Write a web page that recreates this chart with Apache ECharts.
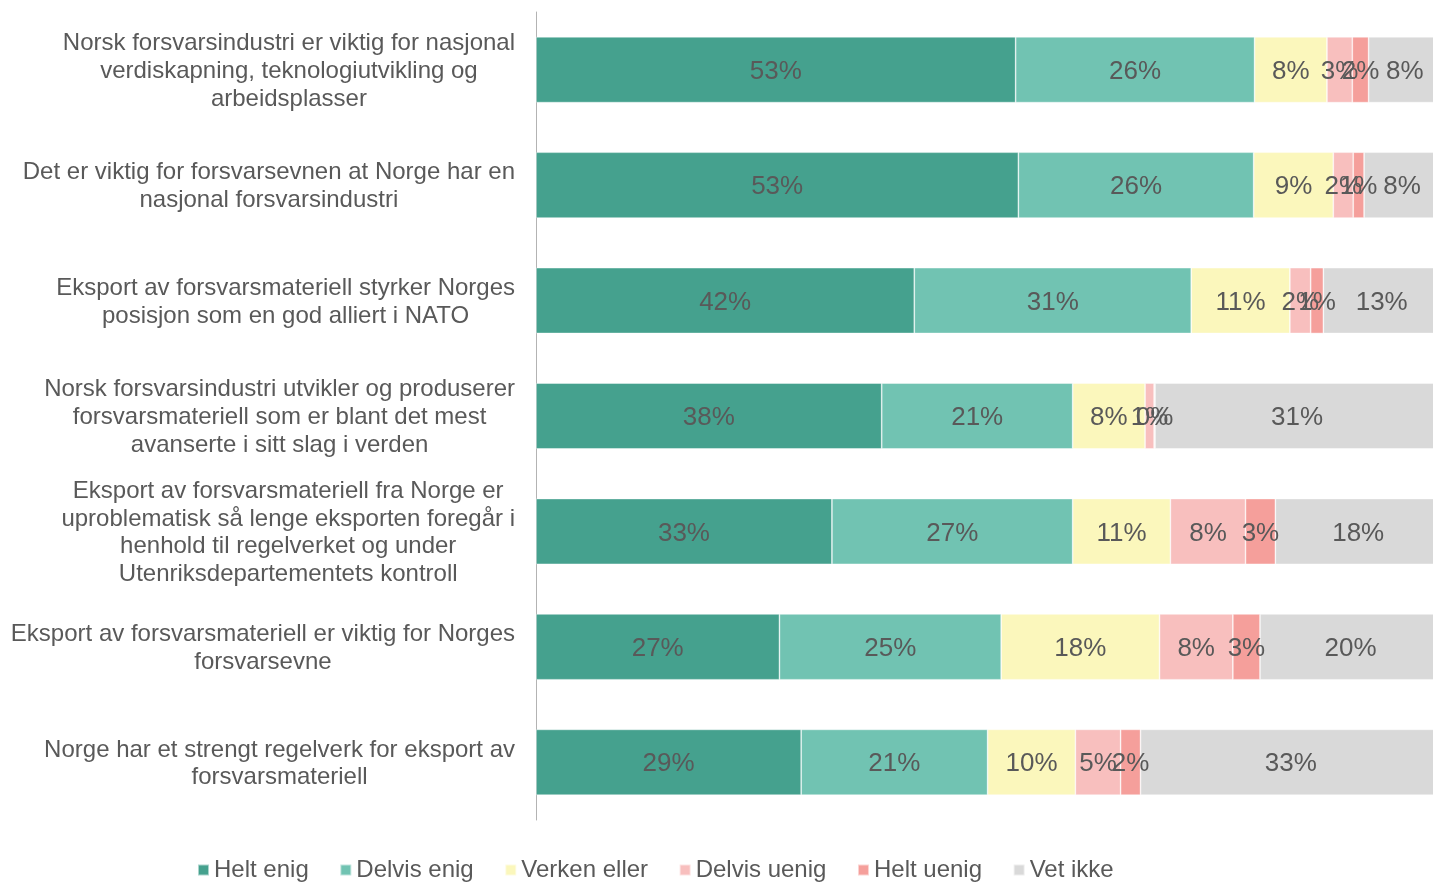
<!DOCTYPE html>
<html>
<head>
<meta charset="utf-8">
<script src="https://cdn.jsdelivr.net/npm/echarts@6/dist/echarts.min.js"></script>
<style>
  html, body { margin: 0; padding: 0; background: #ffffff; overflow: hidden; }
  #chart { width: 1441px; height: 882px; }
</style>
</head>
<body>
<div id="chart"></div>
<script>
// Statements (top to bottom), line breaks as they appear in the axis labels
const statements = [
  'Norsk forsvarsindustri er viktig for nasjonal\nverdiskapning, teknologiutvikling og\narbeidsplasser',
  'Det er viktig for forsvarsevnen at Norge har en\nnasjonal forsvarsindustri',
  'Eksport av forsvarsmateriell styrker Norges\nposisjon som en god alliert i NATO',
  'Norsk forsvarsindustri utvikler og produserer\nforsvarsmateriell som er blant det mest\navanserte i sitt slag i verden',
  'Eksport av forsvarsmateriell fra Norge er\nuproblematisk så lenge eksporten foregår i\nhenhold til regelverket og under\nUtenriksdepartementets kontroll',
  'Eksport av forsvarsmateriell er viktig for Norges\nforsvarsevne',
  'Norge har et strengt regelverk for eksport av\nforsvarsmateriell'
];

// Answer shares in percent, one value per statement
const heltEnig    = [53.0, 53.3, 41.8, 38.2, 32.7, 26.9, 29.3];
const delvisEnig  = [26.4, 26.0, 30.6, 21.1, 26.6, 24.5, 20.6];
const verkenEller = [8.0, 8.8, 10.9, 8.0, 10.8, 17.5, 9.7];
const delvisUenig = [2.8, 2.2, 2.3, 1.0, 8.3, 8.1, 5.0];
const heltUenig   = [1.8, 1.2, 1.4, 0.1, 3.3, 3.0, 2.2];
const vetIkke     = [8.0, 8.4, 12.9, 31.4, 18.3, 20.0, 33.2];

const seriesNames = ['Helt enig', 'Delvis enig', 'Verken eller', 'Delvis uenig', 'Helt uenig', 'Vet ikke'];
const seriesData = [heltEnig, delvisEnig, verkenEller, delvisUenig, heltUenig, vetIkke];
const seriesColors = ['#45A18E', '#71C3B2', '#FBF7BC', '#F8BFBE', '#F59F9B', '#D9D9D9'];

const FONT = '"Liberation Sans", Arial, sans-serif';
const TEXT = '#595959';

const chart = echarts.init(document.getElementById('chart'), null, { renderer: 'canvas' });

chart.setOption({
  animation: false,
  backgroundColor: '#ffffff',
  textStyle: { fontFamily: FONT, color: TEXT },
  grid: { left: 536, right: 0, top: 12, bottom: 62, containLabel: false },
  legend: {
    data: seriesNames,
    left: 192,
    top: 853,
    icon: 'rect',
    itemWidth: 11,
    itemHeight: 11,
    itemGap: 30.6,
    textStyle: { fontFamily: FONT, fontSize: 24, color: TEXT }
  },
  xAxis: {
    type: 'value',
    min: 0,
    max: 100,
    show: false
  },
  yAxis: {
    type: 'category',
    inverse: true,
    data: statements,
    axisLine: { show: true, lineStyle: { color: '#B3B3B3', width: 1 } },
    axisTick: { show: false },
    axisLabel: {
      margin: 21,
      align: 'right',
      padding: [3, 0, 0, 0],
      formatter: function (v) {
        return v.split('\n').map(function (line) { return '{c|' + line + '}'; }).join('\n');
      },
      rich: {
        c: { align: 'center', fontFamily: FONT, fontSize: 24, color: TEXT, lineHeight: 27.7 }
      }
    }
  },
  series: seriesNames.map(function (name, i) {
    return {
      name: name,
      type: 'bar',
      stack: 'total',
      barCategoryGap: '43%',
      data: seriesData[i],
      itemStyle: {
        color: seriesColors[i],
        borderColor: 'rgba(255,255,255,0.55)',
        borderWidth: 0.75
      },
      label: {
        show: true,
        position: 'inside',
        offset: [0, 2],
        fontFamily: FONT,
        fontSize: 26,
        color: TEXT,
        formatter: function (p) { return Math.round(p.value) + '%'; }
      },
      emphasis: { disabled: true }
    };
  })
});
</script>
</body>
</html>
